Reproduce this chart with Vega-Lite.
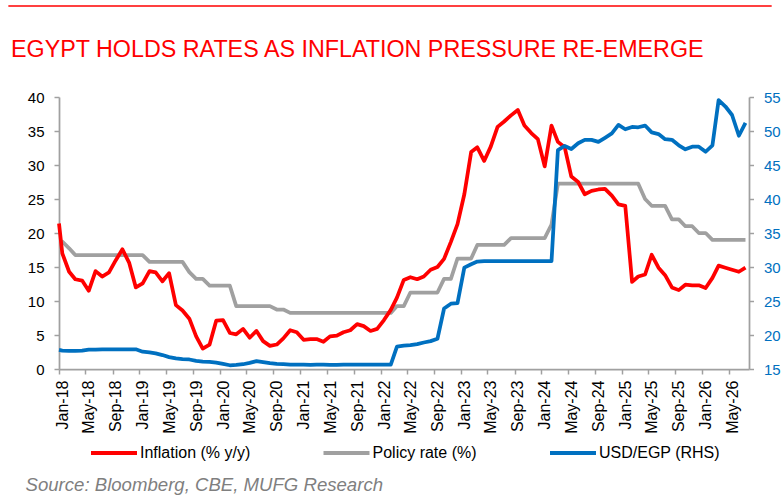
{
  "$schema": "https://vega.github.io/schema/vega-lite/v6.json",
  "width": 690,
  "height": 272,
  "autosize": {"type": "none"},
  "padding": {"left": 59, "top": 97, "right": 35, "bottom": 134},
  "title": {
    "text": "EGYPT HOLDS RATES AS INFLATION PRESSURE RE-EMERGE",
    "anchor": "start",
    "frame": "group",
    "dx": -48,
    "dy": 84.5,
    "offset": 9,
    "baseline": "alphabetic",
    "font": "Liberation Sans",
    "fontSize": 23.3,
    "fontWeight": "normal",
    "color": "#FF0000"
  },
  "config": {"view": {"stroke": null}, "font": "Liberation Sans"},
  "data": {
    "values": [
      {"date": "2018-01-01", "inflation": 21.4, "policy": 18.75, "usd": 17.8},
      {"date": "2018-01-16", "inflation": 17.0, "policy": 18.75, "usd": 17.7},
      {"date": "2018-02-16", "inflation": 14.3, "policy": 17.75, "usd": 17.65},
      {"date": "2018-03-16", "inflation": 13.2, "policy": 16.75, "usd": 17.65},
      {"date": "2018-04-16", "inflation": 13.0, "policy": 16.75, "usd": 17.7},
      {"date": "2018-05-16", "inflation": 11.5, "policy": 16.75, "usd": 17.85},
      {"date": "2018-06-16", "inflation": 14.4, "policy": 16.75, "usd": 17.85},
      {"date": "2018-07-16", "inflation": 13.6, "policy": 16.75, "usd": 17.9},
      {"date": "2018-08-16", "inflation": 14.2, "policy": 16.75, "usd": 17.9},
      {"date": "2018-09-16", "inflation": 16.0, "policy": 16.75, "usd": 17.9},
      {"date": "2018-10-16", "inflation": 17.6, "policy": 16.75, "usd": 17.9},
      {"date": "2018-11-16", "inflation": 15.6, "policy": 16.75, "usd": 17.9},
      {"date": "2018-12-16", "inflation": 12.0, "policy": 16.75, "usd": 17.9},
      {"date": "2019-01-16", "inflation": 12.6, "policy": 16.75, "usd": 17.55},
      {"date": "2019-02-16", "inflation": 14.4, "policy": 15.75, "usd": 17.45},
      {"date": "2019-03-16", "inflation": 14.2, "policy": 15.75, "usd": 17.3},
      {"date": "2019-04-16", "inflation": 12.9, "policy": 15.75, "usd": 17.05},
      {"date": "2019-05-16", "inflation": 14.1, "policy": 15.75, "usd": 16.75},
      {"date": "2019-06-16", "inflation": 9.4, "policy": 15.75, "usd": 16.55},
      {"date": "2019-07-16", "inflation": 8.6, "policy": 15.75, "usd": 16.45},
      {"date": "2019-08-16", "inflation": 7.4, "policy": 14.25, "usd": 16.4},
      {"date": "2019-09-16", "inflation": 4.8, "policy": 13.25, "usd": 16.2},
      {"date": "2019-10-16", "inflation": 3.0, "policy": 13.25, "usd": 16.1},
      {"date": "2019-11-16", "inflation": 3.6, "policy": 12.25, "usd": 16.05},
      {"date": "2019-12-16", "inflation": 7.1, "policy": 12.25, "usd": 15.95},
      {"date": "2020-01-16", "inflation": 7.2, "policy": 12.25, "usd": 15.75},
      {"date": "2020-02-16", "inflation": 5.3, "policy": 12.25, "usd": 15.55},
      {"date": "2020-03-16", "inflation": 5.1, "policy": 9.25, "usd": 15.6},
      {"date": "2020-04-16", "inflation": 5.9, "policy": 9.25, "usd": 15.7},
      {"date": "2020-05-16", "inflation": 4.6, "policy": 9.25, "usd": 15.9},
      {"date": "2020-06-16", "inflation": 5.6, "policy": 9.25, "usd": 16.15},
      {"date": "2020-07-16", "inflation": 4.1, "policy": 9.25, "usd": 16.0},
      {"date": "2020-08-16", "inflation": 3.4, "policy": 9.25, "usd": 15.85},
      {"date": "2020-09-16", "inflation": 3.6, "policy": 8.75, "usd": 15.75},
      {"date": "2020-10-16", "inflation": 4.5, "policy": 8.75, "usd": 15.7},
      {"date": "2020-11-16", "inflation": 5.7, "policy": 8.25, "usd": 15.65},
      {"date": "2020-12-16", "inflation": 5.4, "policy": 8.25, "usd": 15.65},
      {"date": "2021-01-16", "inflation": 4.3, "policy": 8.25, "usd": 15.65},
      {"date": "2021-02-16", "inflation": 4.4, "policy": 8.25, "usd": 15.6},
      {"date": "2021-03-16", "inflation": 4.4, "policy": 8.25, "usd": 15.65},
      {"date": "2021-04-16", "inflation": 4.0, "policy": 8.25, "usd": 15.65},
      {"date": "2021-05-16", "inflation": 4.8, "policy": 8.25, "usd": 15.6},
      {"date": "2021-06-16", "inflation": 4.9, "policy": 8.25, "usd": 15.6},
      {"date": "2021-07-16", "inflation": 5.4, "policy": 8.25, "usd": 15.65},
      {"date": "2021-08-16", "inflation": 5.7, "policy": 8.25, "usd": 15.65},
      {"date": "2021-09-16", "inflation": 6.6, "policy": 8.25, "usd": 15.65},
      {"date": "2021-10-16", "inflation": 6.3, "policy": 8.25, "usd": 15.65},
      {"date": "2021-11-16", "inflation": 5.6, "policy": 8.25, "usd": 15.65},
      {"date": "2021-12-16", "inflation": 5.9, "policy": 8.25, "usd": 15.65},
      {"date": "2022-01-16", "inflation": 7.2, "policy": 8.25, "usd": 15.65},
      {"date": "2022-02-16", "inflation": 8.7, "policy": 8.25, "usd": 15.65},
      {"date": "2022-03-16", "inflation": 10.5, "policy": 9.25, "usd": 18.3},
      {"date": "2022-04-16", "inflation": 13.1, "policy": 9.25, "usd": 18.45},
      {"date": "2022-05-16", "inflation": 13.5, "policy": 11.25, "usd": 18.5},
      {"date": "2022-06-16", "inflation": 13.2, "policy": 11.25, "usd": 18.65},
      {"date": "2022-07-16", "inflation": 13.6, "policy": 11.25, "usd": 18.9},
      {"date": "2022-08-16", "inflation": 14.6, "policy": 11.25, "usd": 19.1},
      {"date": "2022-09-16", "inflation": 15.0, "policy": 11.25, "usd": 19.45},
      {"date": "2022-10-16", "inflation": 16.2, "policy": 13.25, "usd": 23.9},
      {"date": "2022-11-16", "inflation": 18.7, "policy": 13.25, "usd": 24.6},
      {"date": "2022-12-16", "inflation": 21.3, "policy": 16.25, "usd": 24.7},
      {"date": "2023-01-16", "inflation": 25.7, "policy": 16.25, "usd": 29.9},
      {"date": "2023-02-16", "inflation": 31.9, "policy": 16.25, "usd": 30.4},
      {"date": "2023-03-16", "inflation": 32.6, "policy": 18.25, "usd": 30.8},
      {"date": "2023-04-16", "inflation": 30.6, "policy": 18.25, "usd": 30.85},
      {"date": "2023-05-16", "inflation": 32.7, "policy": 18.25, "usd": 30.85},
      {"date": "2023-06-16", "inflation": 35.6, "policy": 18.25, "usd": 30.85},
      {"date": "2023-07-16", "inflation": 36.4, "policy": 18.25, "usd": 30.85},
      {"date": "2023-08-16", "inflation": 37.3, "policy": 19.25, "usd": 30.85},
      {"date": "2023-09-16", "inflation": 38.1, "policy": 19.25, "usd": 30.85},
      {"date": "2023-10-16", "inflation": 35.8, "policy": 19.25, "usd": 30.85},
      {"date": "2023-11-16", "inflation": 34.7, "policy": 19.25, "usd": 30.85},
      {"date": "2023-12-16", "inflation": 33.8, "policy": 19.25, "usd": 30.85},
      {"date": "2024-01-16", "inflation": 29.8, "policy": 19.25, "usd": 30.85},
      {"date": "2024-02-16", "inflation": 35.8, "policy": 21.25, "usd": 30.85},
      {"date": "2024-03-16", "inflation": 33.4, "policy": 27.25, "usd": 47.2},
      {"date": "2024-04-16", "inflation": 32.6, "policy": 27.25, "usd": 47.8},
      {"date": "2024-05-16", "inflation": 28.3, "policy": 27.25, "usd": 47.35},
      {"date": "2024-06-16", "inflation": 27.5, "policy": 27.25, "usd": 48.2},
      {"date": "2024-07-16", "inflation": 25.7, "policy": 27.25, "usd": 48.7},
      {"date": "2024-08-16", "inflation": 26.2, "policy": 27.25, "usd": 48.7},
      {"date": "2024-09-16", "inflation": 26.4, "policy": 27.25, "usd": 48.4},
      {"date": "2024-10-16", "inflation": 26.5, "policy": 27.25, "usd": 49.0},
      {"date": "2024-11-16", "inflation": 25.5, "policy": 27.25, "usd": 49.65},
      {"date": "2024-12-16", "inflation": 24.2, "policy": 27.25, "usd": 50.9},
      {"date": "2025-01-16", "inflation": 24.0, "policy": 27.25, "usd": 50.25},
      {"date": "2025-02-16", "inflation": 12.8, "policy": 27.25, "usd": 50.6},
      {"date": "2025-03-16", "inflation": 13.6, "policy": 27.25, "usd": 50.55},
      {"date": "2025-04-16", "inflation": 13.9, "policy": 25.0, "usd": 50.8},
      {"date": "2025-05-16", "inflation": 16.8, "policy": 24.0, "usd": 49.8},
      {"date": "2025-06-16", "inflation": 14.9, "policy": 24.0, "usd": 49.55},
      {"date": "2025-07-16", "inflation": 13.8, "policy": 24.0, "usd": 48.8},
      {"date": "2025-08-16", "inflation": 12.0, "policy": 22.0, "usd": 48.7},
      {"date": "2025-09-16", "inflation": 11.6, "policy": 22.0, "usd": 47.9},
      {"date": "2025-10-16", "inflation": 12.4, "policy": 21.0, "usd": 47.3},
      {"date": "2025-11-16", "inflation": 12.3, "policy": 21.0, "usd": 47.7},
      {"date": "2025-12-16", "inflation": 12.3, "policy": 20.0, "usd": 47.7},
      {"date": "2026-01-16", "inflation": 11.9, "policy": 20.0, "usd": 46.95},
      {"date": "2026-02-16", "inflation": 13.4, "policy": 19.0, "usd": 47.9},
      {"date": "2026-03-16", "inflation": 15.2, "policy": 19.0, "usd": 54.55},
      {"date": "2026-04-16", "inflation": 14.9, "policy": 19.0, "usd": 53.6},
      {"date": "2026-05-16", "inflation": 14.6, "policy": 19.0, "usd": 52.35},
      {"date": "2026-06-16", "inflation": 14.3, "policy": 19.0, "usd": 49.3},
      {"date": "2026-07-16", "inflation": 14.9, "policy": 19.0, "usd": 51.2}
    ]
  },
  "layer": [
    {
      "encoding": {
        "x": {
          "field": "date",
          "type": "temporal",
          "scale": {"domain": [{"year": 2018, "month": 1, "date": 1}, {"year": 2026, "month": 8, "date": 1}]},
          "axis": {
            "format": "%b-%y",
            "tickCount": {"interval": "month", "step": 4},
            "labelAngle": 270,
            "labelFont": "Liberation Sans",
            "labelFontSize": 16,
            "labelColor": "#000000",
            "labelPadding": 6,
            "labelOffset": 3.35,
            "labelFlush": false,
            "labelOverlap": false,
            "tickSize": 5,
            "tickWidth": 1.5,
            "tickColor": "#A0A0A0",
            "domainColor": "#A0A0A0",
            "domainWidth": 1.75,
            "grid": false,
            "title": "Source: Bloomberg, CBE, MUFG Research",
            "titleX": -34,
            "titleY": 121.7,
            "titleAlign": "left",
            "titleBaseline": "alphabetic",
            "titleAngle": 0,
            "titleFont": "Liberation Sans",
            "titleFontSize": 18.6,
            "titleFontStyle": "italic",
            "titleFontWeight": "normal",
            "titleColor": "#7F7F7F"
          }
        }
      },
      "layer": [
        {
          "mark": {"type": "line", "strokeWidth": 3.75, "strokeJoin": "round"},
          "encoding": {
            "y": {
              "field": "policy",
              "type": "quantitative",
              "scale": {"domain": [0, 40], "nice": false, "zero": false},
              "axis": {
                "orient": "left",
                "values": [0, 5, 10, 15, 20, 25, 30, 35, 40],
                "title": null,
                "labelFont": "Liberation Sans",
                "labelFontSize": 15,
                "labelColor": "#000000",
                "labelPadding": 10,
                "labelFlush": false,
                "labelOverlap": false,
                "tickSize": 5,
                "tickWidth": 1.5,
                "tickColor": "#A0A0A0",
                "domainColor": "#A0A0A0",
                "domainWidth": 1.75,
                "grid": false
              }
            },
            "color": {
              "datum": "Policy rate (%)",
              "scale": {
                "domain": ["Inflation (% y/y)", "Policy rate (%)", "USD/EGP (RHS)"],
                "range": ["#FF0000", "#A0A0A0", "#0070C0"]
              },
              "legend": {
                "title": null,
                "orient": "none",
                "legendX": 30,
                "legendY": 331,
                "direction": "horizontal",
                "columns": 3,
                "gridAlign": "each",
                "padding": 0,
                "columnPadding": 64.5,
                "symbolType": "stroke",
                "symbolSize": 2116,
                "symbolStrokeWidth": 4,
                "labelOffset": 1,
                "labelFont": "Liberation Sans",
                "labelFontSize": 16,
                "labelColor": "#000000",
                "labelLimit": 300
              }
            }
          }
        },
        {
          "mark": {"type": "line", "strokeWidth": 3.75, "strokeJoin": "round"},
          "encoding": {
            "y": {
              "field": "inflation",
              "type": "quantitative",
              "scale": {"domain": [0, 40], "nice": false, "zero": false},
              "axis": {
                "orient": "left",
                "values": [0, 5, 10, 15, 20, 25, 30, 35, 40],
                "title": null,
                "labelFont": "Liberation Sans",
                "labelFontSize": 15,
                "labelColor": "#000000",
                "labelPadding": 10,
                "labelFlush": false,
                "labelOverlap": false,
                "tickSize": 5,
                "tickWidth": 1.5,
                "tickColor": "#A0A0A0",
                "domainColor": "#A0A0A0",
                "domainWidth": 1.75,
                "grid": false
              }
            },
            "color": {"datum": "Inflation (% y/y)"}
          }
        }
      ]
    },
    {
      "mark": {"type": "line", "strokeWidth": 3.75, "strokeJoin": "round"},
      "encoding": {
        "x": {
          "field": "date",
          "type": "temporal",
          "scale": {"domain": [{"year": 2018, "month": 1, "date": 1}, {"year": 2026, "month": 8, "date": 1}]},
          "axis": {
            "format": "%b-%y",
            "tickCount": {"interval": "month", "step": 4},
            "labelAngle": 270,
            "labelFont": "Liberation Sans",
            "labelFontSize": 16,
            "labelColor": "#000000",
            "labelPadding": 6,
            "labelOffset": 3.35,
            "labelFlush": false,
            "labelOverlap": false,
            "tickSize": 5,
            "tickWidth": 1.5,
            "tickColor": "#A0A0A0",
            "domainColor": "#A0A0A0",
            "domainWidth": 1.75,
            "grid": false,
            "title": "Source: Bloomberg, CBE, MUFG Research",
            "titleX": -34,
            "titleY": 121.7,
            "titleAlign": "left",
            "titleBaseline": "alphabetic",
            "titleAngle": 0,
            "titleFont": "Liberation Sans",
            "titleFontSize": 18.6,
            "titleFontStyle": "italic",
            "titleFontWeight": "normal",
            "titleColor": "#7F7F7F"
          }
        },
        "y": {
          "field": "usd",
          "type": "quantitative",
          "scale": {"domain": [15, 55], "nice": false, "zero": false},
          "axis": {
            "orient": "right",
            "values": [15, 20, 25, 30, 35, 40, 45, 50, 55],
            "title": null,
            "labelFont": "Liberation Sans",
            "labelFontSize": 15,
            "labelColor": "#0070C0",
            "labelPadding": 10,
            "labelFlush": false,
            "labelOverlap": false,
            "tickSize": 4.5,
            "tickWidth": 1.5,
            "tickColor": "#A0A0A0",
            "domainColor": "#A0A0A0",
            "domainWidth": 1.75,
            "grid": false
          }
        },
        "color": {"datum": "USD/EGP (RHS)"}
      }
    },
    {
      "data": {"values": [{"line": "top"}]},
      "mark": {"type": "rule", "stroke": "#FF0000", "strokeWidth": 1.5, "clip": false},
      "encoding": {
        "x": {"datum": 1494892800000, "type": "temporal"},
        "x2": {"datum": 1794441600000},
        "y": {
          "datum": 53.38,
          "type": "quantitative",
          "scale": {"domain": [0, 40], "nice": false, "zero": false},
          "axis": null
        }
      }
    }
  ],
  "resolve": {"scale": {"y": "independent"}}
}
